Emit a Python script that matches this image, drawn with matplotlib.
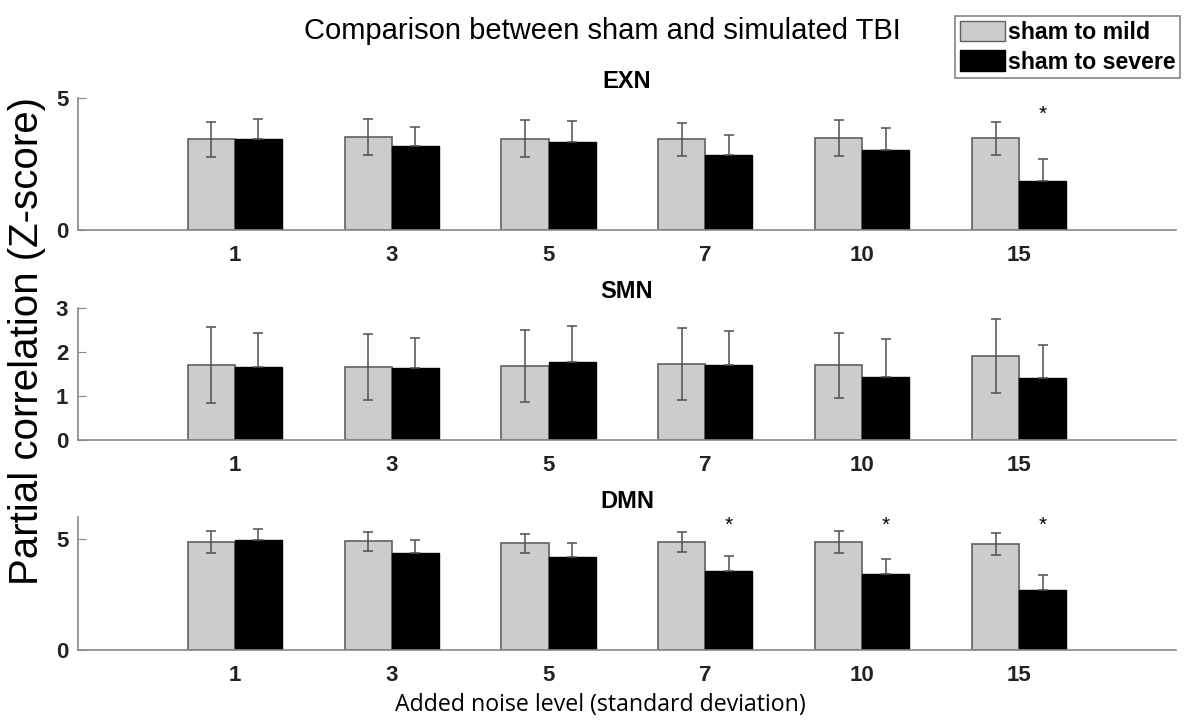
import matplotlib.pyplot as plt
from matplotlib.patches import Patch

noise_levels = ["1", "3", "5", "7", "10", "15"]
networks = ["EXN", "SMN", "DMN"]

# mean and error for each network, sham to mild / sham to severe
exn_mild = [3.43, 3.52, 3.46, 3.43, 3.48, 3.48]
exn_mild_err = [0.65, 0.67, 0.70, 0.62, 0.67, 0.62]
exn_severe = [3.46, 3.19, 3.33, 2.83, 3.03, 1.87]
exn_severe_err = [0.73, 0.70, 0.80, 0.77, 0.82, 0.81]

smn_mild = [1.69, 1.66, 1.68, 1.72, 1.69, 1.90]
smn_mild_err = [0.86, 0.75, 0.81, 0.82, 0.74, 0.84]
smn_severe = [1.66, 1.63, 1.77, 1.69, 1.43, 1.41]
smn_severe_err = [0.77, 0.69, 0.82, 0.78, 0.85, 0.74]

dmn_mild = [4.88, 4.92, 4.82, 4.88, 4.88, 4.79]
dmn_mild_err = [0.50, 0.43, 0.44, 0.45, 0.51, 0.49]
dmn_severe = [4.99, 4.40, 4.22, 3.59, 3.44, 2.70]
dmn_severe_err = [0.47, 0.57, 0.60, 0.67, 0.69, 0.69]

exn_sig = [False, False, False, False, False, True]
smn_sig = [False, False, False, False, False, False]
dmn_sig = [False, False, False, True, True, True]

panels = [
    (exn_mild, exn_mild_err, exn_severe, exn_severe_err, exn_sig),
    (smn_mild, smn_mild_err, smn_severe, smn_severe_err, smn_sig),
    (dmn_mild, dmn_mild_err, dmn_severe, dmn_severe_err, dmn_sig),
]
ylims = [(0, 5), (0, 3), (0, 6)]
yticks = [[0, 5], [0, 1, 2, 3], [0, 5]]

xpos = list(range(1, len(noise_levels) + 1))
w = 0.3
gray = "#cccccc"
errc = "#505050"

fig = plt.figure(figsize=(11.85, 7.22), dpi=100)
rects = [
    [0.0658, 0.6814, 0.9266, 0.1828],
    [0.0658, 0.3906, 0.9266, 0.1833],
    [0.0658, 0.0997, 0.9266, 0.1838],
]

for k in range(3):
    ax = fig.add_axes(rects[k])
    mild, mild_err, sev, sev_err, sig = panels[k]
    xm = [x - w / 2 for x in xpos]
    xs = [x + w / 2 for x in xpos]
    ax.bar(xm, mild, w, color=gray, edgecolor="#606060", linewidth=1.2, zorder=2)
    ax.bar(xs, sev, w, color="black", edgecolor="black", linewidth=1.0, zorder=2)
    ax.errorbar(xm, mild, yerr=mild_err, fmt="none", ecolor=errc,
                elinewidth=1.1, capsize=3.5, capthick=1.1, zorder=3)
    ax.errorbar(xs, sev, yerr=[[0] * len(sev), sev_err], fmt="none", ecolor=errc,
                elinewidth=1.1, capsize=3.5, capthick=1.1, zorder=3)
    star_y = max([m + e for m, e in zip(mild, mild_err)] +
                 [s + e for s, e in zip(sev, sev_err)]) + 0.2
    for i in range(len(sig)):
        if sig[i]:
            ax.text(xs[i], star_y, "*", ha="center", va="center",
                    fontsize=15, family="Liberation Sans")
    ax.set_xlim(0, 7)
    ax.set_ylim(*ylims[k])
    ax.set_yticks(yticks[k])
    ax.set_xticks(xpos)
    ax.set_xticklabels(noise_levels)
    for lab in ax.get_xticklabels() + ax.get_yticklabels():
        lab.set_fontweight("bold")
        lab.set_fontsize(16)
        lab.set_family("Liberation Sans")
        lab.set_color("#222222")
    ax.tick_params(axis="x", length=0, pad=11)
    ax.tick_params(axis="y", direction="in", length=6, color="#888888", pad=7)
    ax.spines["top"].set_visible(False)
    ax.spines["right"].set_visible(False)
    ax.spines["left"].set_color("#888888")
    ax.spines["bottom"].set_color("#888888")
    ax.spines["left"].set_linewidth(1.2)
    ax.spines["bottom"].set_linewidth(1.2)
    ax.set_title(networks[k], fontsize=17, fontweight="bold",
                 family="Liberation Sans", pad=7)

fig.text(0.508, 0.957, "Comparison between sham and simulated TBI",
         ha="center", va="center", fontsize=21, family="Liberation Sans")
fig.text(0.023, 0.528, "Partial correlation (Z-score)", rotation=90,
         ha="center", va="center", fontsize=29, family="Liberation Sans")
fig.text(0.507, 0.024, "Added noise level (standard deviation)",
         ha="center", va="center", fontsize=16.7, family="Open Sans")

handles = [Patch(facecolor=gray, edgecolor="#606060"),
           Patch(facecolor="black", edgecolor="black")]
leg = fig.legend(handles, ["sham to mild", "sham to severe"],
                 loc="upper right", bbox_to_anchor=(0.9958, 0.978),
                 prop={"family": "Liberation Sans", "weight": "bold", "size": 16.7},
                 frameon=True, fancybox=False, handlelength=1.95, handleheight=1.0,
                 handletextpad=0.13, borderpad=0.2, labelspacing=0.28,
                 borderaxespad=0)
leg.get_frame().set_edgecolor("#666666")
leg.get_frame().set_linewidth(1.2)

fig.savefig("out.png", dpi=100)
